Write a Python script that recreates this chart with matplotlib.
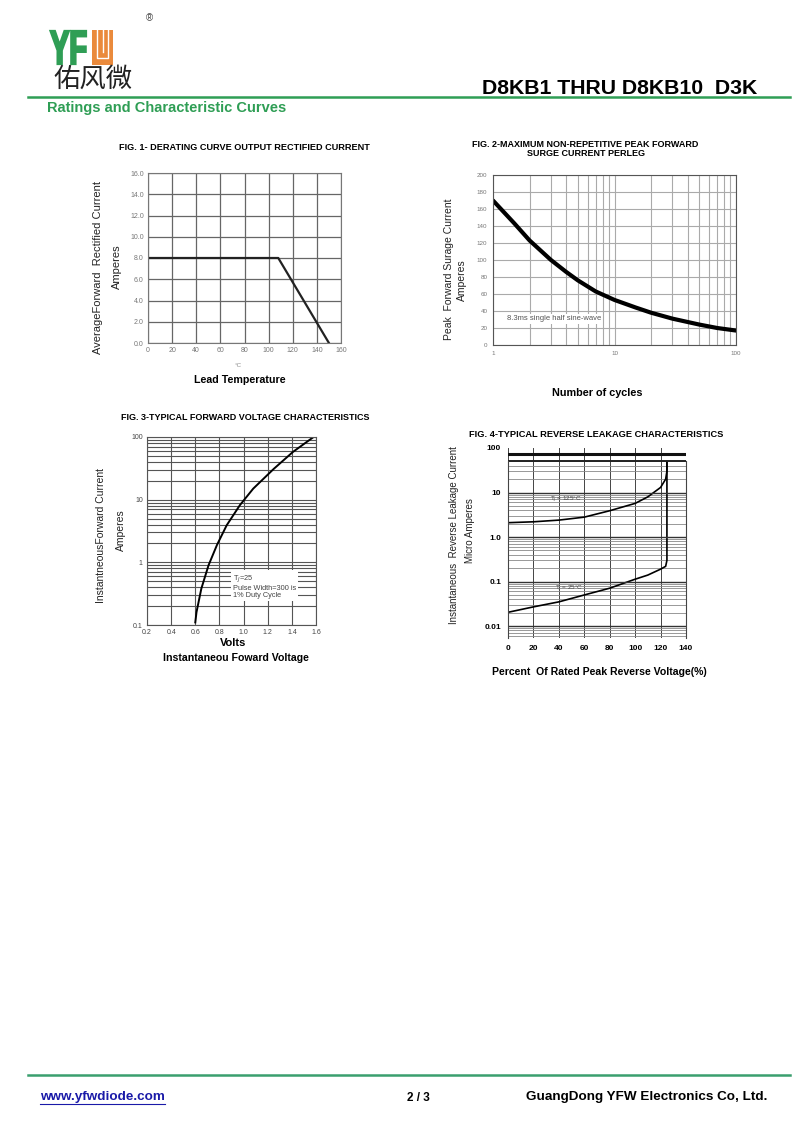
import matplotlib
matplotlib.use("Agg")
import matplotlib.pyplot as plt
import numpy as np
from matplotlib.textpath import TextPath
from matplotlib.patches import PathPatch, Rectangle
from matplotlib.font_manager import FontProperties
from matplotlib.transforms import Affine2D
from matplotlib.ticker import FixedLocator, NullFormatter

plt.rcParams['font.family'] = ['Liberation Sans', 'DejaVu Sans']

W, H = 800, 1138
GREEN = '#2f9e55'
ORANGE = '#ea8a3c'

# Fig 1 - derating curve
lead_temp = [0, 108, 150]
avg_current = [8.0, 8.0, 0.0]

# Fig 2 - surge current vs cycles
cycles = [1, 1.5, 2, 3, 4, 5, 7, 10, 15, 20, 30, 50, 70, 100]
surge = [170, 143, 123, 100, 86, 76, 63, 53, 44, 38, 31, 24, 20, 17]

# Fig 3 - forward voltage
volts = [0.60, 0.61, 0.65, 0.71, 0.78, 0.86, 0.97, 1.08, 1.25, 1.41, 1.58]
amps = [0.11, 0.16, 0.38, 0.9, 1.9, 3.9, 8.2, 15, 31, 58, 100]

# Fig 4 - reverse leakage
pct = [0, 20, 40, 60, 80, 100, 110, 120, 124, 125, 125]
ir_125 = [2.1, 2.2, 2.4, 2.8, 3.9, 5.7, 8, 13, 20, 30, 49]
ir_25 = [0.0204, 0.027, 0.035, 0.050, 0.071, 0.113, 0.14, 0.19, 0.22, 0.3, 49]


fig = plt.figure(figsize=(W / 100, H / 100), dpi=100)

# page overlay in pixel coords (header, footer, loose labels)
page = fig.add_axes([0, 0, 1, 1])
page.set_xlim(0, W)
page.set_ylim(H, 0)
page.axis('off')


def box(x0, y0, x1, y1):
    return fig.add_axes([x0 / W, 1 - y1 / H, (x1 - x0) / W, (y1 - y0) / H])


def txt(x, y, s, **kw):
    kw.setdefault('ha', 'center')
    kw.setdefault('va', 'center')
    page.text(x, y, s, **kw)


# ---- header ----
tp = TextPath((0, 0), 'YF', size=1, prop=FontProperties(family='Liberation Sans', weight='bold'))
logo = Affine2D().scale(29.0, -48.0).translate(50, 64).transform_path(tp)
page.add_patch(PathPatch(logo, facecolor=GREEN, edgecolor=GREEN, lw=1.6))
page.add_patch(Rectangle((92, 30), 21, 35, color=ORANGE, lw=0))
page.plot([97, 97, 108, 108], [30, 58, 58, 30], color='white', lw=1.0)
page.plot([102.5, 102.5], [30, 52], color='white', lw=1.0)
txt(149, 18, '®', fontsize=7, color='#444')
txt(93, 79, '佑风微', fontsize=19, family=['Noto Sans CJK SC', 'DejaVu Sans'], color='#222')
txt(757, 88, 'D8KB1 THRU D8KB10  D3K', fontsize=15.3, weight='bold', ha='right')
page.plot([28, 790], [97, 97], color=GREEN, lw=1.8)
txt(47, 108, 'Ratings and Characteristic Curves', fontsize=10.5, weight='bold', color=GREEN, ha='left')

# ---- footer ----
page.plot([28, 790], [1075, 1075], color='#3a9f6e', lw=1.8)
txt(40, 1097, 'www.yfwdiode.com', fontsize=9.7, weight='bold', color='#1a1aa8', ha='left')
page.plot([40, 165], [1103.5, 1103.5], color='#1a1aa8', lw=0.8)
txt(418, 1098, '2 / 3', fontsize=8.5, weight='bold')
txt(767, 1097, 'GuangDong YFW Electronics Co, Ltd.', fontsize=9.7, weight='bold', ha='right')

# ---- Fig 1 ----
ax1 = box(148, 173, 341, 343)
ax1.plot(lead_temp, avg_current, color='#222', lw=1.6)
ax1.set_xlim(0, 160)
ax1.set_ylim(0, 16)
ax1.set_xticks(range(0, 161, 20))
yt = np.arange(0, 16.1, 2)
ax1.set_yticks(yt, labels=[f'{v:.1f}' for v in yt])
ax1.grid(color='#666', lw=0.9)
ax1.tick_params(length=0, labelsize=5, labelcolor='#777', pad=3)
for s in ax1.spines.values():
    s.set_color('#777')
txt(244, 147, 'FIG. 1- DERATING CURVE OUTPUT RECTIFIED CURRENT', fontsize=6.6, weight='bold')
txt(98, 267, 'AverageForward  Rectified Current', fontsize=8, rotation=90, color='#222')
txt(117, 267, 'Amperes', fontsize=8, rotation=90, color='#222')
txt(238, 365, '°C', fontsize=4.5, color='#888')
txt(240, 380, 'Lead Temperature', fontsize=7.7, weight='bold')

# ---- Fig 2 ----
ax2 = box(493, 175, 736, 345)
ax2.semilogx(cycles, surge, color='black', lw=3, solid_capstyle='round')
ax2.set_xlim(1, 100)
ax2.set_ylim(0, 200)
ax2.set_yticks(range(0, 201, 20))
ax2.set_xticks([1, 10, 100], labels=['1', '10', '100'])
ax2.xaxis.set_minor_locator(FixedLocator([m * 10 ** e for e in range(2) for m in range(2, 10)]))
ax2.xaxis.set_minor_formatter(NullFormatter())
ax2.grid(axis='x', which='both', color='#aaa', lw=0.8)
ax2.grid(axis='y', color='#aaa', lw=0.8)
ax2.tick_params(which='both', length=0, labelsize=4.5, labelcolor='#777', pad=4)
for s in ax2.spines.values():
    s.set_color('#555')
ax2.text(1.3, 31, '8.3ms single half sine-wave', fontsize=5.5, color='#555', va='center',
         bbox=dict(facecolor='white', edgecolor='none', pad=1))
txt(585, 144, 'FIG. 2-MAXIMUM NON-REPETITIVE PEAK FORWARD', fontsize=6.5, weight='bold')
txt(586, 153, 'SURGE CURRENT PERLEG', fontsize=6.5, weight='bold')
txt(449, 269, 'Peak  Forward Surage Current', fontsize=7.5, rotation=90, color='#222')
txt(462, 280, 'Amperes', fontsize=7.5, rotation=90, color='#222')
txt(597, 393, 'Number of cycles', fontsize=7.8, weight='bold')

# ---- Fig 3 ----
ax3 = box(147, 437, 316, 625)
ax3.semilogy(volts, amps, color='black', lw=1.4)
ax3.set_xlim(0.2, 1.6)
ax3.set_ylim(0.1, 100)
xt = np.arange(0.2, 1.61, 0.2)
ax3.set_xticks(xt, labels=[f'{v:.1f}' for v in xt])
ax3.set_yticks([0.1, 1, 10, 100], labels=['0.1', '1', '10', '100'])
ax3.yaxis.set_minor_locator(FixedLocator([m * 10 ** e for e in range(-1, 2) for m in range(2, 10)]))
ax3.yaxis.set_minor_formatter(NullFormatter())
ax3.grid(which='both', color='#555', lw=0.8)
ax3.tick_params(which='both', length=0, labelsize=5, labelcolor='#444', pad=3)
for s in ax3.spines.values():
    s.set_color('#555')
ax3.text(0.91, 0.41, 'T$_J$=25\nPulse Width=300 is\n1% Duty Cycle', fontsize=5.3, color='#444',
         va='center', linespacing=1.0, bbox=dict(facecolor='white', edgecolor='none', pad=1.5))
txt(245, 417, 'FIG. 3-TYPICAL FORWARD VOLTAGE CHARACTERISTICS', fontsize=6.5, weight='bold')
txt(101, 535, 'InstantneousForward Current', fontsize=7.5, rotation=90, color='#222')
txt(121, 530, 'Amperes', fontsize=7.5, rotation=90, color='#222')
txt(233, 643, 'Volts', fontsize=8, weight='bold')
txt(236, 658, 'Instantaneou Foward Voltage', fontsize=7.6, weight='bold')

# ---- Fig 4 ----
ax4 = box(508, 448, 686, 638)
ax4.semilogy(pct, ir_125, color='black', lw=1.2)
ax4.semilogy(pct, ir_25, color='black', lw=1.2)
ax4.set_xlim(0, 140)
ax4.set_ylim(0.0054, 100)
ax4.set_xticks(range(0, 141, 20))
ax4.set_yticks([0.01, 0.1, 1, 10, 100], labels=['0.01', '0.1', '1.0', '10', '100'])
minor4 = [m * 10 ** e for e in range(-3, 2) for m in range(2, 10) if 0.0054 < m * 10 ** e < 51]
ax4.yaxis.set_minor_locator(FixedLocator(minor4))
ax4.yaxis.set_minor_formatter(NullFormatter())
ax4.grid(axis='y', which='minor', color='#888', lw=0.6)
ax4.grid(axis='x', which='major', color='#444', lw=0.7)
for v in [0.01, 0.1, 1, 10]:
    ax4.axhline(v, color='#333', lw=1.0)
ax4.axhline(51, color='#222', lw=1.4)
ax4.axhline(73, color='#111', lw=2.2)
ax4.spines['top'].set_visible(False)
ax4.spines['bottom'].set_visible(False)
ax4.spines['left'].set_bounds(0.0054, 51)
ax4.spines['right'].set_bounds(0.0054, 51)
for s in ax4.spines.values():
    s.set_color('#444')
ax4.tick_params(which='both', length=0, labelsize=6, pad=5)
for lab in ax4.get_xticklabels() + ax4.get_yticklabels():
    lab.set_fontweight('bold')
ax4.text(33, 6.8, 'T$_j$ = 125°C', fontsize=4.5, color='#444', va='center')
ax4.text(37, 0.068, 'T$_j$ = 25°C', fontsize=4.5, color='#444', va='center')
txt(596, 434, 'FIG. 4-TYPICAL REVERSE LEAKAGE CHARACTERISTICS', fontsize=6.7, weight='bold')
txt(454, 535, 'Instantaneous  Reverse Leakage Current', fontsize=7, rotation=90, color='#222')
txt(470, 531, 'Micro Amperes', fontsize=7, rotation=90, color='#222')
txt(599, 672, 'Percent  Of Rated Peak Reverse Voltage(%)', fontsize=7.6, weight='bold')

fig.savefig('out.png', dpi=100)
